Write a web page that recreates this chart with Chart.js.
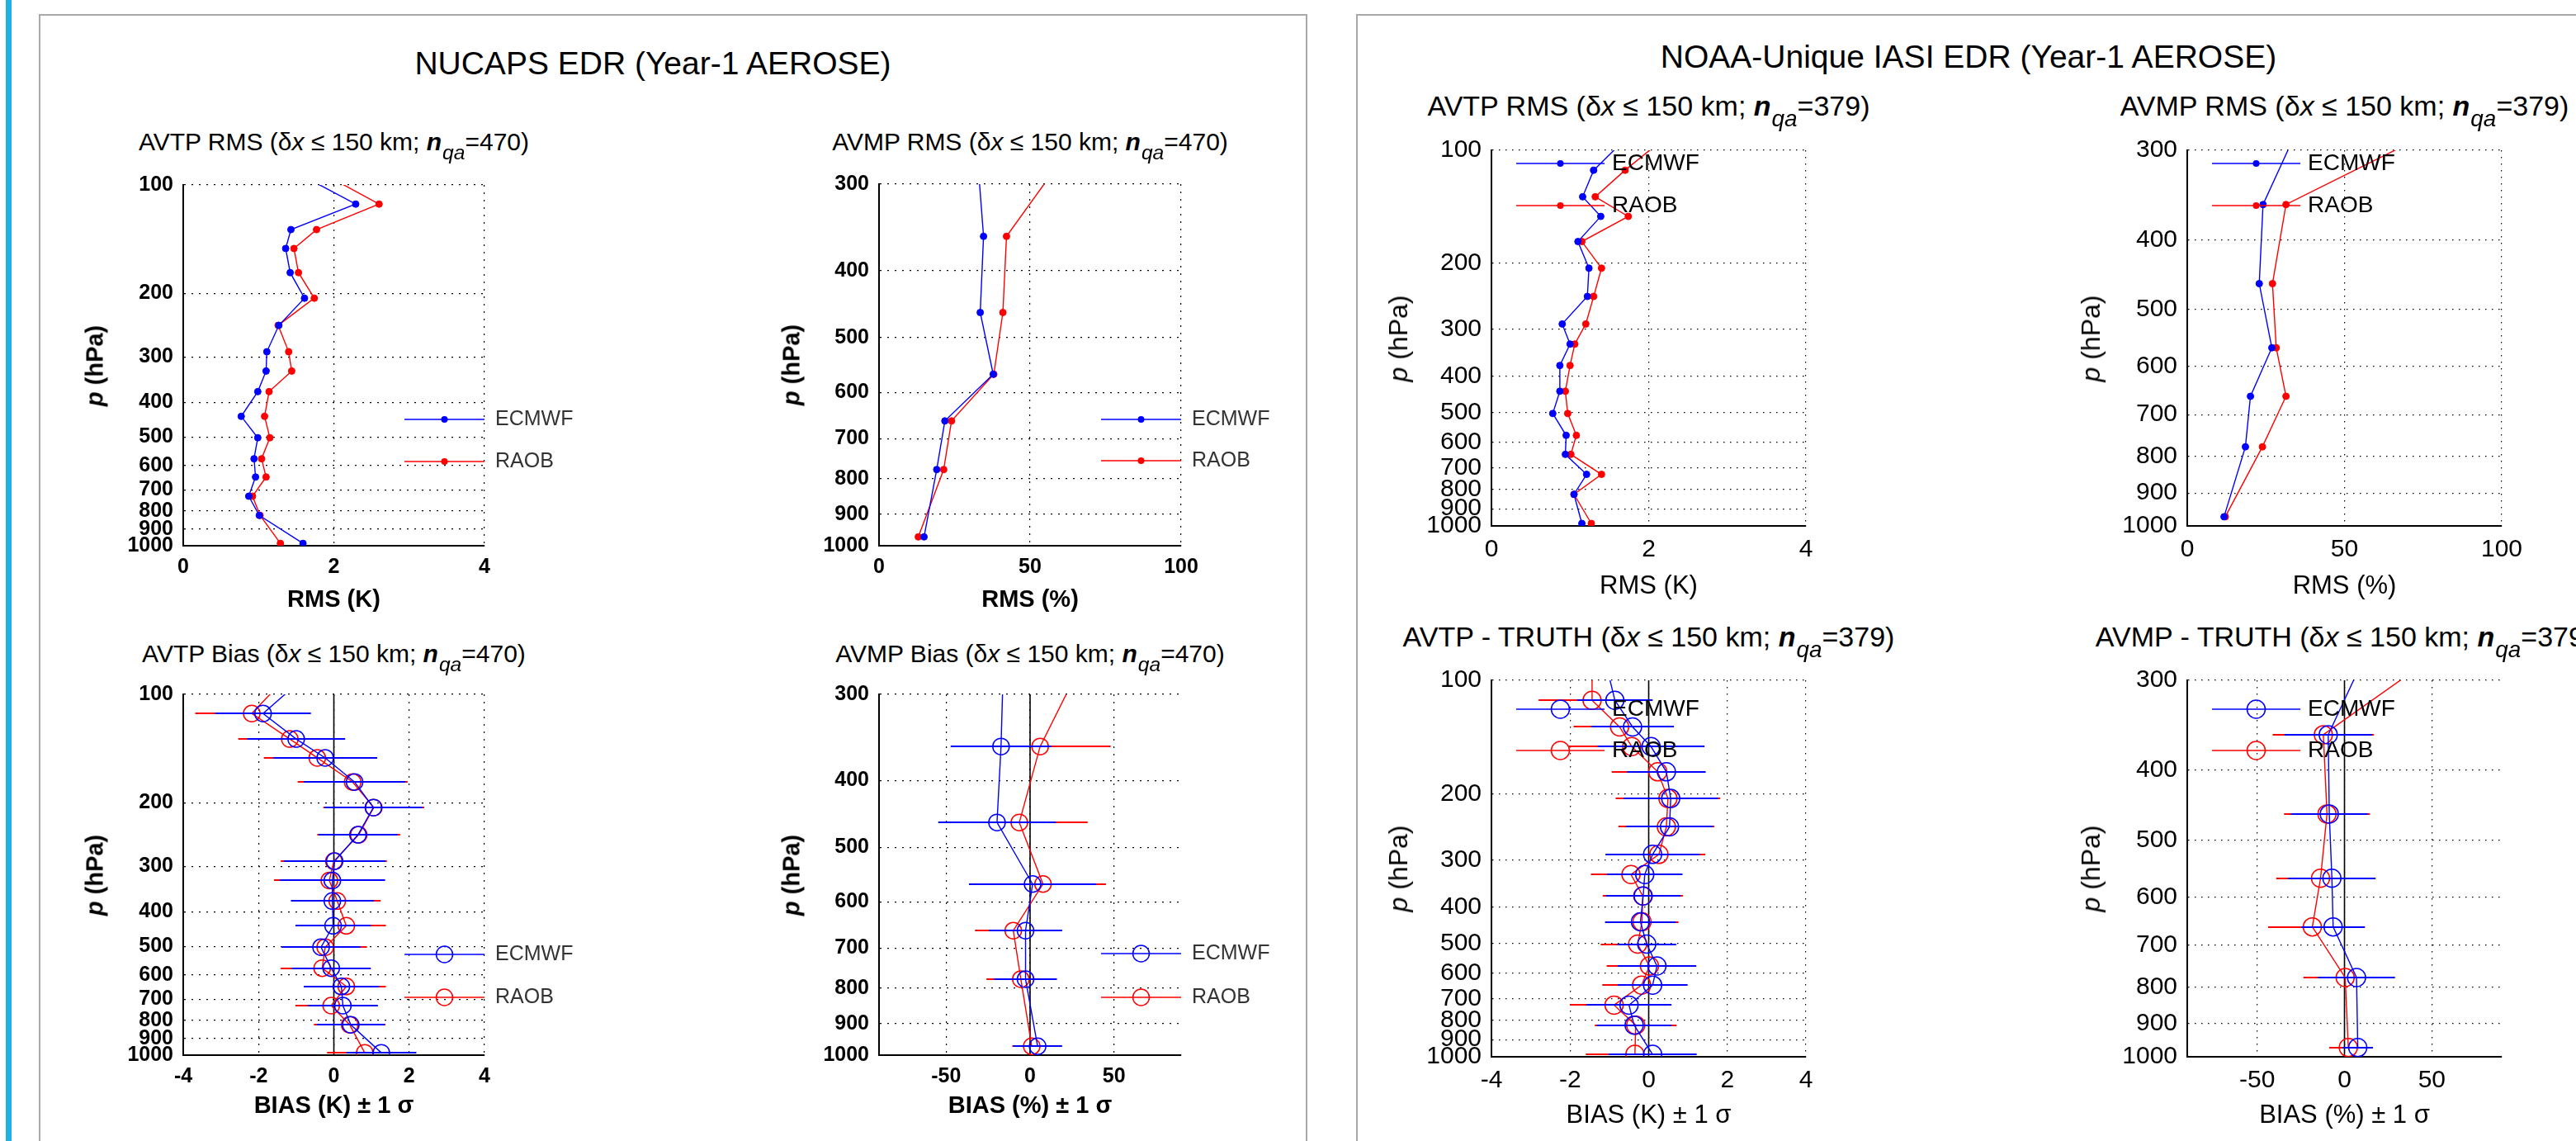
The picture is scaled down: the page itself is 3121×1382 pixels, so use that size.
<!DOCTYPE html>
<html>
<head>
<meta charset="utf-8">
<script src="https://cdn.jsdelivr.net/npm/chart.js@4.4.0/dist/chart.umd.min.js"></script>
<style>
  body { margin:0; width:3121px; height:1382px; background:#fff; position:relative; overflow:hidden;
         font-family:"Liberation Sans", Arial, sans-serif; color:#000; }
  .panel { position:absolute; border:2px solid #a9a9a9; height:1500px; }
  .title { position:absolute; white-space:nowrap; text-align:center; line-height:1; width:900px; }
  .ylab { position:absolute; white-space:nowrap; line-height:1; transform:translate(-50%,-50%) rotate(-90deg); }
  .sub { position:relative; top:0.45em; font-size:0.82em; font-style:italic; margin-left:1px; }
</style>
</head>
<body>
<div style="position:absolute;left:7px;top:0;width:7px;height:1382px;background:#1fb0e6"></div>
<div class="panel" style="left:47px;top:17px;width:1533px"></div>
<div class="panel" style="left:1643px;top:17px;width:1500px"></div>
<script>
// pressure levels (hPa); first entry sits above the plotted range and is clipped
const T_LEVELS = [90, 113, 133, 150, 175, 206, 245, 290, 328, 374, 438, 502, 574, 645, 729, 824, 985];
const Q_LEVELS = [250, 357, 460, 565, 660, 776, 971];

// tick labels
const T_P_TICKS = [100, 200, 300, 400, 500, 600, 700, 800, 900, 1000];
const Q_P_TICKS = [300, 400, 500, 600, 700, 800, 900, 1000];
const T_RMS_TICKS = [0, 2, 4];
const Q_RMS_TICKS = [0, 50, 100];
const T_BIAS_TICKS = [-4, -2, 0, 2, 4];
const Q_BIAS_TICKS = [-50, 0, 50];

// NUCAPS EDR
const nucaps_t_rms_ecmwf = [1.40, 2.29, 1.43, 1.36, 1.42, 1.61, 1.27, 1.11, 1.10, 0.99, 0.77, 0.99, 0.94, 0.96, 0.87, 1.01, 1.59];
const nucaps_t_rms_raob  = [1.73, 2.60, 1.77, 1.47, 1.53, 1.74, 1.26, 1.40, 1.44, 1.14, 1.08, 1.15, 1.04, 1.10, 0.92, 1.02, 1.29];
const nucaps_q_rms_ecmwf = [31.9, 34.6, 33.5, 37.8, 21.8, 19.1, 14.9];
const nucaps_q_rms_raob  = [67.7, 42.2, 41.0, 38.0, 24.0, 21.4, 13.0];
const nucaps_t_bias_ecmwf = [-0.80, -1.88, -1.00, -0.23, 0.55, 1.05, 0.64, 0.02, -0.04, -0.04, -0.02, -0.34, -0.07, 0.20, 0.24, 0.45, 1.26];
const nucaps_t_sd_ecmwf   = [null, 1.27, 1.30, 1.38, 1.35, 1.30, 1.05, 1.35, 1.40, 1.10, 1.00, 1.05, 1.05, 1.00, 0.93, 0.90, 0.93];
const nucaps_t_bias_raob  = [-1.28, -2.18, -1.17, -0.44, 0.50, 1.06, 0.66, 0.00, -0.12, 0.09, 0.33, -0.23, -0.31, 0.33, -0.07, 0.42, 0.82];
const nucaps_t_sd_raob    = [null, 1.50, 1.37, 1.42, 1.46, 1.34, 1.10, 1.41, 1.47, 1.15, 1.05, 1.11, 1.10, 1.05, 0.95, 0.95, 1.00];
const nucaps_q_bias_ecmwf = [-15.5, -17.3, -19.7, 1.5, -2.7, -2.7, 4.5];
const nucaps_q_sd_ecmwf   = [null, 30.0, 35.0, 37.9, 21.8, 18.7, 14.6];
const nucaps_q_bias_raob  = [37.8, 6.0, -6.4, 7.7, -10.0, -5.5, 1.0];
const nucaps_q_sd_raob    = [null, 42.0, 40.7, 37.5, 22.8, 20.5, 11.6];

// NOAA-Unique IASI EDR
const iasi_t_rms_ecmwf = [1.78, 1.30, 1.16, 1.39, 1.10, 1.24, 1.22, 0.90, 1.00, 0.87, 0.87, 0.78, 0.95, 0.94, 1.21, 1.05, 1.15];
const iasi_t_rms_raob  = [2.28, 1.70, 1.32, 1.74, 1.15, 1.40, 1.30, 1.20, 1.06, 1.00, 0.94, 0.97, 1.08, 1.01, 1.40, 1.05, 1.27];
const iasi_q_rms_ecmwf = [40.3, 24.1, 22.9, 26.9, 20.1, 18.5, 11.7];
const iasi_q_rms_raob  = [102.3, 31.4, 27.1, 28.3, 31.4, 23.9, 12.1];
const iasi_t_bias_ecmwf = [-1.09, -0.86, -0.41, 0.06, 0.45, 0.56, 0.53, 0.10, -0.10, -0.14, -0.21, -0.05, 0.21, 0.10, -0.50, -0.37, 0.10];
const iasi_t_sd_ecmwf   = [null, 0.96, 1.05, 1.36, 1.00, 1.20, 1.10, 1.20, 0.96, 0.95, 0.90, 0.75, 1.00, 0.89, 1.08, 0.95, 1.12];
const iasi_t_bias_raob  = [-1.44, -1.44, -0.74, -0.43, 0.23, 0.49, 0.45, 0.26, -0.45, -0.15, -0.17, -0.28, 0.02, -0.18, -0.88, -0.33, -0.35];
const iasi_t_sd_raob    = [null, 1.36, 1.17, 1.60, 1.17, 1.33, 1.22, 1.18, 1.02, 1.02, 0.93, 0.94, 1.09, 1.00, 1.12, 1.04, 1.25];
const iasi_q_bias_ecmwf = [20.4, -9.3, -8.7, -7.2, -6.5, 6.9, 7.6];
const iasi_q_sd_ecmwf   = [null, 25.0, 22.0, 25.0, 18.2, 22.0, 8.7];
const iasi_q_bias_raob  = [78.1, -12.1, -10.0, -13.7, -18.4, 0.4, 2.2];
const iasi_q_sd_raob    = [null, 29.0, 24.6, 25.3, 25.3, 23.9, 10.9];

const FONT = '"Liberation Sans", Arial, sans-serif';
Chart.defaults.font.family = FONT;
Chart.defaults.color = '#000';

const LEFT = { tick: {size: 25, weight: 'bold'}, lab: {size: 29, weight: 'bold'}, legFont: '25px ' + FONT,
               legColor: '#333', dash: [2, 7], titleSize: 30, ylabSize: 29, ylabWeight: 'bold', n: 470 };
const RIGHT = { tick: {size: 30}, lab: {size: 31}, legFont: '28px ' + FONT,
                legColor: '#000', dash: [1.5, 6.5], titleSize: 34, ylabSize: 32, ylabWeight: 'normal', n: 379 };

const plots = [
  {L: 222, T: 224, W: 365, H: 437, B: 83, R: 170, st: LEFT, lev: T_LEVELS, yt: T_P_TICKS, xmin: 0, xmax: 4, xt: T_RMS_TICKS,
   xlabel: 'RMS (K)', blue: nucaps_t_rms_ecmwf, red: nucaps_t_rms_raob, name: 'AVTP RMS', titleY: 171.5, ylabOff: 107,
   leg: {side: 'right', dys: [284, 335]}},
  {L: 1065, T: 223, W: 366, H: 438, B: 83, R: 170, st: LEFT, lev: Q_LEVELS, yt: Q_P_TICKS, xmin: 0, xmax: 100, xt: Q_RMS_TICKS,
   xlabel: 'RMS (%)', blue: nucaps_q_rms_ecmwf, red: nucaps_q_rms_raob, name: 'AVMP RMS', titleY: 171.5, ylabOff: 106,
   leg: {side: 'right', dys: [285, 335]}},
  {L: 222, T: 841, W: 365, H: 437, B: 79, R: 170, st: LEFT, lev: T_LEVELS, yt: T_P_TICKS, xmin: -4, xmax: 4, xt: T_BIAS_TICKS,
   xlabel: 'BIAS (K) \u00b1 1 \u03c3', blue: nucaps_t_bias_ecmwf, red: nucaps_t_bias_raob, blueErr: nucaps_t_sd_ecmwf, redErr: nucaps_t_sd_raob,
   name: 'AVTP Bias', titleY: 791.5, ylabOff: 107, leg: {side: 'right', dys: [315, 367]}},
  {L: 1065, T: 841, W: 366, H: 437, B: 79, R: 170, st: LEFT, lev: Q_LEVELS, yt: Q_P_TICKS, xmin: -90, xmax: 90, xt: Q_BIAS_TICKS,
   xlabel: 'BIAS (%) \u00b1 1 \u03c3', blue: nucaps_q_bias_ecmwf, red: nucaps_q_bias_raob, blueErr: nucaps_q_sd_ecmwf, redErr: nucaps_q_sd_raob,
   name: 'AVMP Bias', titleY: 791.5, ylabOff: 106, leg: {side: 'right', dys: [314, 367]}},
  {L: 1807, T: 182, W: 381, H: 455, B: 92, R: 40, st: RIGHT, lev: T_LEVELS, yt: T_P_TICKS, xmin: 0, xmax: 4, xt: T_RMS_TICKS,
   xlabel: 'RMS (K)', blue: iasi_t_rms_ecmwf, red: iasi_t_rms_raob, name: 'AVTP RMS', titleY: 128, ylabOff: 113,
   leg: {side: 'left', dys: [16, 67]}},
  {L: 2650, T: 182, W: 381, H: 455, B: 92, R: 40, st: RIGHT, lev: Q_LEVELS, yt: Q_P_TICKS, xmin: 0, xmax: 100, xt: Q_RMS_TICKS,
   xlabel: 'RMS (%)', blue: iasi_q_rms_ecmwf, red: iasi_q_rms_raob, name: 'AVMP RMS', titleY: 128, ylabOff: 117,
   leg: {side: 'left', dys: [16, 67]}},
  {L: 1807, T: 824, W: 381, H: 456, B: 90, R: 40, st: RIGHT, lev: T_LEVELS, yt: T_P_TICKS, xmin: -4, xmax: 4, xt: T_BIAS_TICKS,
   xlabel: 'BIAS (K) \u00b1 1 \u03c3', blue: iasi_t_bias_ecmwf, red: iasi_t_bias_raob, blueErr: iasi_t_sd_ecmwf, redErr: iasi_t_sd_raob,
   name: 'AVTP - TRUTH', titleY: 770.7, ylabOff: 113, leg: {side: 'left', dys: [35, 85]}},
  {L: 2650, T: 824, W: 381, H: 456, B: 90, R: 40, st: RIGHT, lev: Q_LEVELS, yt: Q_P_TICKS, xmin: -90, xmax: 90, xt: Q_BIAS_TICKS,
   xlabel: 'BIAS (%) \u00b1 1 \u03c3', blue: iasi_q_bias_ecmwf, red: iasi_q_bias_raob, blueErr: iasi_q_sd_ecmwf, redErr: iasi_q_sd_raob,
   name: 'AVMP - TRUTH', titleY: 770.7, ylabOff: 117, leg: {side: 'left', dys: [35, 85]}}
];

function addDiv(cls, html, css) {
  const d = document.createElement('div');
  d.className = cls;
  d.innerHTML = html;
  d.style.cssText += css;
  document.body.appendChild(d);
  return d;
}

// panel titles
addDiv('title', 'NUCAPS EDR (Year-1 AEROSE)', 'left:' + (791 - 450) + 'px;top:' + (76 - 0.49 * 39) + 'px;font-size:39px;');
addDiv('title', 'NOAA-Unique IASI EDR (Year-1 AEROSE)', 'left:' + (2385 - 450) + 'px;top:' + (68.5 - 0.49 * 39) + 'px;font-size:39px;');

// draws horizontal +-1 sigma bars for a dataset right after the dataset itself
const errorBars = {
  id: 'errorBars',
  afterDatasetDraw(chart, args) {
    const ds = chart.data.datasets[args.index];
    if (!ds.errs) return;
    const {ctx, scales: {x, y}} = chart;
    ctx.save();
    ctx.strokeStyle = ds.borderColor;
    ctx.lineWidth = 2;
    ds.data.forEach((pt, i) => {
      const e = ds.errs[i];
      if (e == null) return;
      const py = Math.round(y.getPixelForValue(pt.y));
      ctx.beginPath();
      ctx.moveTo(x.getPixelForValue(pt.x - e), py);
      ctx.lineTo(x.getPixelForValue(pt.x + e), py);
      ctx.stroke();
    });
    ctx.restore();
  }
};

const zeroLine = {
  id: 'zeroLine',
  beforeDatasetsDraw(chart) {
    const x = chart.scales.x;
    if (x.min >= 0) return;
    const {ctx, chartArea: a} = chart;
    const px = x.getPixelForValue(0);
    ctx.save();
    ctx.strokeStyle = '#000';
    ctx.lineWidth = 1.6;
    ctx.beginPath();
    ctx.moveTo(px, a.top);
    ctx.lineTo(px, a.bottom);
    ctx.stroke();
    ctx.restore();
  }
};

function makeLegend(p, bias) {
  return {
    id: 'profLegend',
    afterDraw(chart) {
      const {ctx, chartArea: a} = chart;
      const base = p.leg.side === 'right' ? a.right - 97 : a.left + 30;
      const textX = p.leg.side === 'right' ? a.right + 13 : a.left + 146;
      const len = p.leg.side === 'right' ? 97 : 107;
      [['ECMWF', '#0000ff'], ['RAOB', '#ff0000']].forEach(([label, color], i) => {
        const y = a.top + p.leg.dys[i];
        ctx.save();
        ctx.strokeStyle = color;
        ctx.lineWidth = 1.4;
        ctx.beginPath();
        ctx.moveTo(base, y);
        ctx.lineTo(base + len, y);
        ctx.stroke();
        const xm = base + len / 2;
        ctx.beginPath();
        if (bias) {
          ctx.arc(xm, y, p.st === LEFT ? 10 : 11, 0, 2 * Math.PI);
          ctx.lineWidth = 1.5;
          ctx.stroke();
        } else {
          ctx.fillStyle = color;
          ctx.arc(xm, y, 4, 0, 2 * Math.PI);
          ctx.fill();
        }
        ctx.fillStyle = p.st.legColor;
        ctx.font = p.st.legFont;
        ctx.textAlign = 'left';
        ctx.textBaseline = 'middle';
        ctx.fillText(label, textX, y);
        ctx.restore();
      });
    }
  };
}

function dataset(levels, vals, errs, color, bias, st) {
  return {
    data: vals.map((v, i) => ({x: v, y: levels[i]})),
    errs: errs || null,
    showLine: true,
    borderColor: color,
    borderWidth: 1.4,
    pointStyle: 'circle',
    pointRadius: vals.map((v, i) => i === 0 ? 0 : (bias ? (st === LEFT ? 10 : 11) : 4)),
    pointBackgroundColor: bias ? 'rgba(0,0,0,0)' : color,
    pointBorderColor: color,
    pointBorderWidth: bias ? 1.5 : 1
  };
}

plots.forEach(p => {
  const bias = !!p.blueErr;
  const st = p.st;
  const padT = 30, yW = 130;

  const cv = document.createElement('canvas');
  cv.width = p.W + yW + p.R;
  cv.height = p.H + padT + p.B;
  cv.style.cssText = 'position:absolute;left:' + (p.L - yW) + 'px;top:' + (p.T - padT) + 'px;';
  document.body.appendChild(cv);

  // subplot title
  addDiv('title', p.name + ' (\u03b4<i>x</i> \u2264 150 km; <i><b>n</b></i><span class="sub">qa</span>=' + st.n + ')',
    'left:' + (p.L + p.W / 2 - 450) + 'px;top:' + (p.titleY - 0.49 * st.titleSize) + 'px;font-size:' + st.titleSize + 'px;');
  // y axis label
  addDiv('ylab', '<i>p</i> (hPa)',
    'left:' + (p.L - p.ylabOff) + 'px;top:' + (p.T + p.H / 2) + 'px;font-size:' + st.ylabSize + 'px;font-weight:' + st.ylabWeight + ';');

  new Chart(cv, {
    type: 'scatter',
    data: {
      datasets: [
        dataset(p.lev, p.blue, p.blueErr, '#0000ff', bias, st),
        dataset(p.lev, p.red, p.redErr, '#ff0000', bias, st)
      ]
    },
    options: {
      responsive: false,
      animation: false,
      devicePixelRatio: 1,
      layout: {padding: {top: padT, right: p.R, left: 0, bottom: 0}},
      plugins: {legend: {display: false}, tooltip: {enabled: false}},
      scales: {
        x: {
          type: 'linear', min: p.xmin, max: p.xmax,
          afterBuildTicks: s => { s.ticks = p.xt.map(v => ({value: v})); },
          afterFit: s => { s.height = p.B; },
          grid: {color: '#000', lineWidth: 1.2, drawTicks: false},
          border: {display: true, color: '#000', width: 2, dash: st.dash},
          ticks: {font: st.tick, color: '#000', padding: 11, maxRotation: 0, autoSkip: false, callback: v => String(v)},
          title: {display: true, text: p.xlabel, font: st.lab, color: '#000', padding: {top: 0, bottom: 0}}
        },
        y: {
          type: 'logarithmic', min: p.yt[0], max: p.yt[p.yt.length - 1], reverse: true,
          afterBuildTicks: s => { s.ticks = p.yt.map(v => ({value: v})); },
          afterFit: s => { s.width = yW; },
          grid: {color: '#000', lineWidth: 1.2, drawTicks: false},
          border: {display: true, color: '#000', width: 2, dash: st.dash},
          ticks: {font: st.tick, color: '#000', padding: 12, autoSkip: false, callback: v => String(v)}
        }
      }
    },
    plugins: [zeroLine, errorBars, makeLegend(p, bias)]
  });
});
</script>
</body>
</html>
